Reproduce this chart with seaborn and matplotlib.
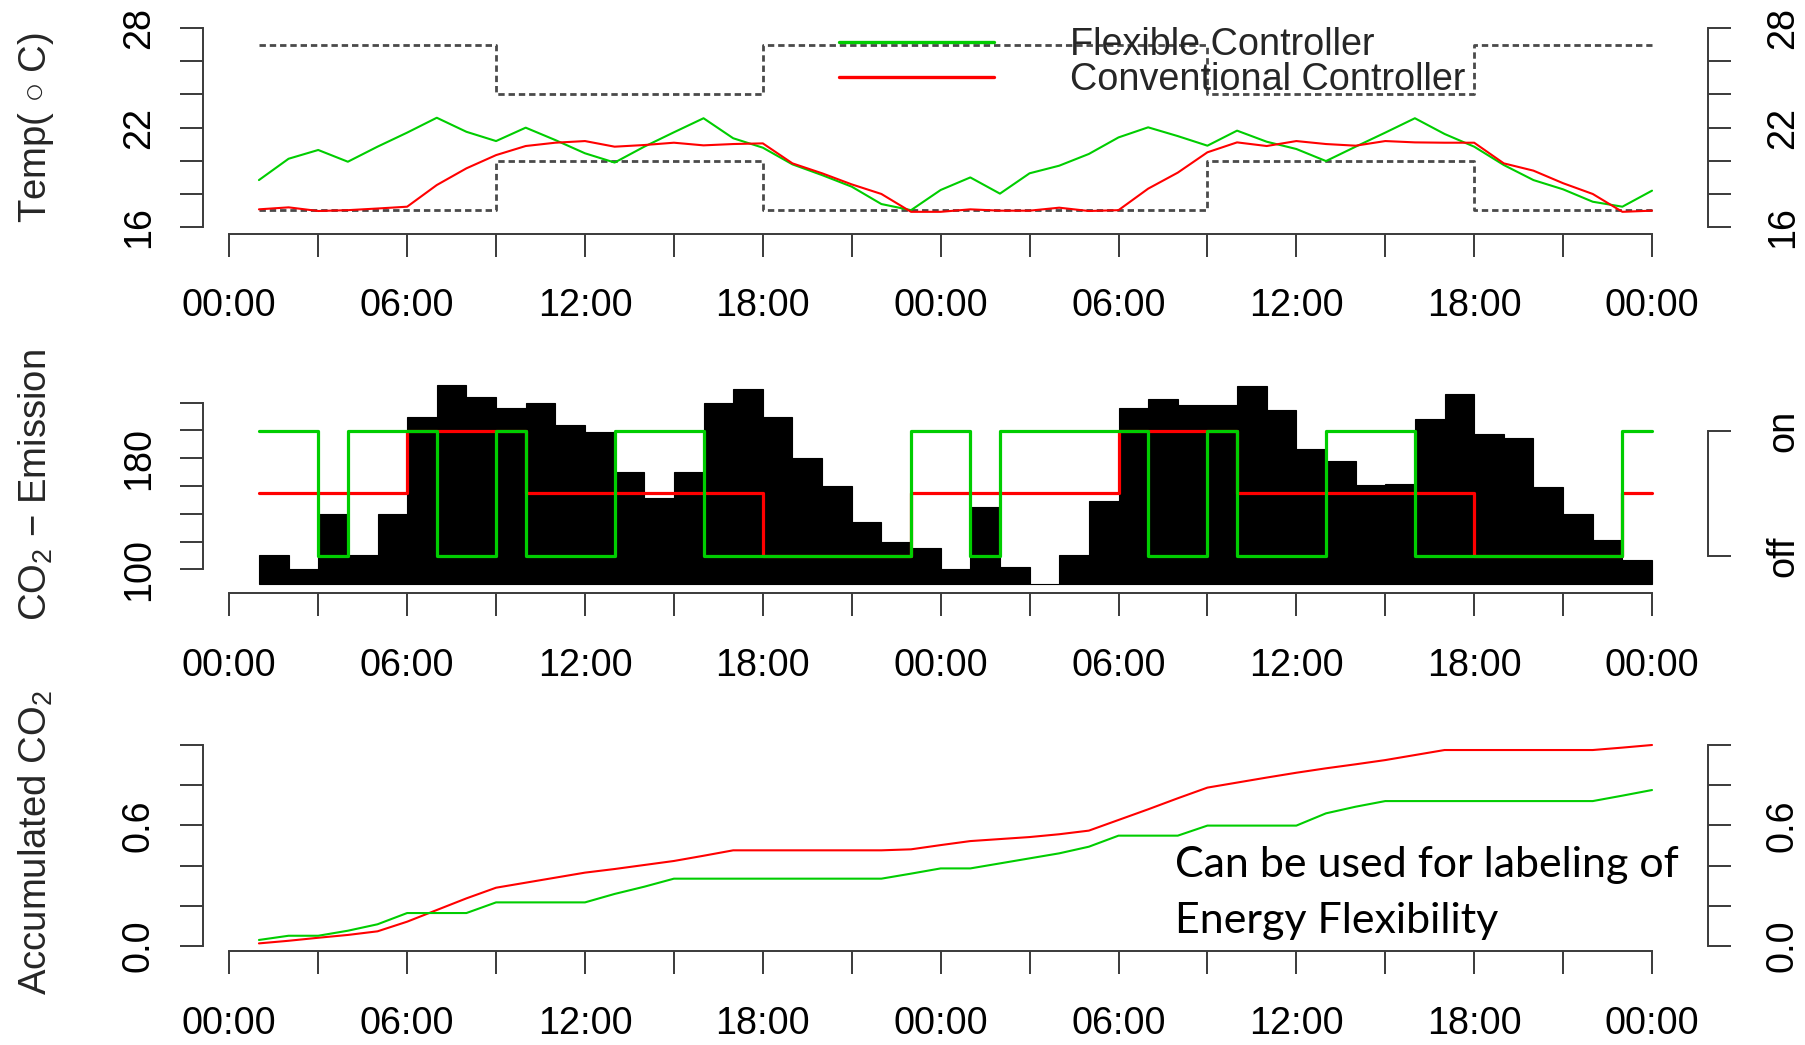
import numpy as np
import pandas as pd
import matplotlib
matplotlib.use("Agg")
import matplotlib.pyplot as plt
import matplotlib.transforms as mtransforms
import seaborn as sns

# ---------------- data ----------------
hours = [1, 2, 3, 4, 5, 6, 7, 8, 9, 10, 11, 12, 13, 14, 15, 16, 17, 18, 19, 20, 21, 22, 23, 24,
         25, 26, 27, 28, 29, 30, 31, 32, 33, 34, 35, 36, 37, 38, 39, 40, 41, 42, 43, 44, 45, 46, 47, 48]

temp_flexible = [18.82, 20.11, 20.64, 19.93, 20.84, 21.69, 22.59, 21.74, 21.18, 21.99, 21.24, 20.44,
                 19.88, 20.84, 21.71, 22.56, 21.35, 20.78, 19.77, 19.12, 18.42, 17.37, 17.00, 18.22,
                 18.98, 18.00, 19.23, 19.69, 20.40, 21.40, 22.01, 21.48, 20.90, 21.81, 21.14, 20.70,
                 19.97, 20.84, 21.69, 22.56, 21.61, 20.84, 19.73, 18.82, 18.26, 17.51, 17.21, 18.18]

temp_conventional = [17.05, 17.17, 16.95, 17.00, 17.10, 17.21, 18.52, 19.53, 20.33, 20.88, 21.08, 21.18,
                     20.84, 20.94, 21.08, 20.92, 21.00, 21.04, 19.83, 19.23, 18.56, 17.98, 16.90, 16.90,
                     17.05, 16.97, 16.97, 17.15, 16.95, 17.00, 18.30, 19.27, 20.50, 21.10, 20.88, 21.18,
                     21.00, 20.90, 21.18, 21.10, 21.08, 21.08, 19.83, 19.39, 18.63, 17.98, 16.90, 16.97]

comfort_upper = [27, 27, 27, 27, 27, 27, 27, 27, 24, 24, 24, 24, 24, 24, 24, 24, 24, 27, 27, 27, 27, 27, 27, 27,
                 27, 27, 27, 27, 27, 27, 27, 27, 24, 24, 24, 24, 24, 24, 24, 24, 24, 27, 27, 27, 27, 27, 27, 27]
comfort_lower = [17, 17, 17, 17, 17, 17, 17, 17, 20, 20, 20, 20, 20, 20, 20, 20, 20, 17, 17, 17, 17, 17, 17, 17,
                 17, 17, 17, 17, 17, 17, 17, 17, 20, 20, 20, 20, 20, 20, 20, 20, 20, 17, 17, 17, 17, 17, 17, 17]

bar_hours = [1, 2, 3, 4, 5, 6, 7, 8, 9, 10, 11, 12, 13, 14, 15, 16, 17, 18, 19, 20, 21, 22, 23, 24,
             25, 26, 27, 28, 29, 30, 31, 32, 33, 34, 35, 36, 37, 38, 39, 40, 41, 42, 43, 44, 45, 46, 47]
co2_emission = [110, 100, 140, 110, 140, 210, 233, 224, 216, 220, 204, 199, 170, 151, 170, 220, 230, 210,
                180, 160, 134, 120, 115, 100, 145, 102, 89.5, 110, 149, 216, 223, 218, 218.5, 232, 215,
                187, 178, 161, 161.5, 208, 226, 197.5, 194.5, 159, 140, 121, 107]

state_flexible = [1, 1, 0, 1, 1, 1, 0, 0, 1, 0, 0, 0, 1, 1, 1, 0, 0, 0, 0, 0, 0, 0, 1, 1,
                  0, 1, 1, 1, 1, 1, 0, 0, 1, 0, 0, 0, 1, 1, 1, 0, 0, 0, 0, 0, 0, 0, 1, 1]
state_conventional = [0.5, 0.5, 0.5, 0.5, 0.5, 1, 1, 1, 1, 0.5, 0.5, 0.5, 0.5, 0.5, 0.5, 0.5, 0.5, 0, 0, 0, 0, 0, 0.5, 0.5,
                      0.5, 0.5, 0.5, 0.5, 0.5, 1, 1, 1, 1, 0.5, 0.5, 0.5, 0.5, 0.5, 0.5, 0.5, 0.5, 0, 0, 0, 0, 0, 0.5, 0.5]

acc_flexible = [0.030, 0.051, 0.051, 0.076, 0.108, 0.164, 0.164, 0.164, 0.217, 0.217, 0.217, 0.217,
                0.259, 0.295, 0.335, 0.335, 0.335, 0.335, 0.335, 0.335, 0.335, 0.335, 0.360, 0.386,
                0.386, 0.411, 0.436, 0.461, 0.494, 0.549, 0.549, 0.549, 0.599, 0.599, 0.599, 0.599,
                0.660, 0.693, 0.721, 0.721, 0.721, 0.721, 0.721, 0.721, 0.721, 0.721, 0.748, 0.776]
acc_conventional = [0.013, 0.026, 0.041, 0.055, 0.073, 0.121, 0.179, 0.237, 0.290, 0.315, 0.340, 0.365,
                    0.383, 0.403, 0.423, 0.449, 0.476, 0.476, 0.476, 0.476, 0.476, 0.476, 0.481, 0.502,
                    0.522, 0.532, 0.542, 0.556, 0.574, 0.627, 0.680, 0.735, 0.788, 0.813, 0.838, 0.862,
                    0.884, 0.904, 0.925, 0.950, 0.975, 0.975, 0.975, 0.975, 0.975, 0.975, 0.987, 1.000]

time_labels = ["00:00", "06:00", "12:00", "18:00", "00:00", "06:00", "12:00", "18:00", "00:00"]

# ---------------- style ----------------
sns.set_theme(style="ticks")
plt.rcParams['font.family'] = ['Liberation Sans', 'DejaVu Sans']
plt.rcParams['mathtext.fontset'] = 'custom'
plt.rcParams['mathtext.rm'] = 'Liberation Sans'
plt.rcParams['mathtext.it'] = 'Liberation Sans:italic'
plt.rcParams['mathtext.bf'] = 'Liberation Sans:bold'

GREEN = '#00CD00'
RED = '#FF0000'
DASH = '#4a4a4a'
AXC = '#3a3a3a'
FS = 27.2
TICKLEN = 16.6
LEFT_PAD = 17.0
RIGHT_EXTRA = 7.2

W, H = 1806, 1045
fig = plt.figure(figsize=(W / 100, H / 100), dpi=100)


def add_axes_px(left, right, top, bottom):
    return fig.add_axes([left / W, 1 - bottom / H, (right - left) / W, (bottom - top) / H])


XL, XR = 203.3, 1708.3
X0, XS = 229.3, 29.64           # pixel of hour 0, pixels per hour
xlim = ((XL - X0) / XS, (XR - X0) / XS)

temp_df = pd.DataFrame({'hour': hours, 'flex': temp_flexible, 'conv': temp_conventional,
                        'upper': comfort_upper, 'lower': comfort_lower})
state_df = pd.DataFrame({'hour': hours, 'flex': state_flexible, 'conv': state_conventional})
acc_df = pd.DataFrame({'hour': hours, 'flex': acc_flexible, 'conv': acc_conventional})

xt = np.arange(0, 49, 3)
xtl = []
k = 0
for v in xt:
    if v % 6 == 0:
        xtl.append(time_labels[k]); k += 1
    else:
        xtl.append('')


def base_style(ax, ybounds, yticks, yticklabels, right=True):
    ax.set_xlim(*xlim)
    ax.spines['top'].set_visible(False)
    ax.spines['bottom'].set_bounds(0, 48)
    ax.spines['left'].set_bounds(*ybounds)
    if right:
        ax.spines['right'].set_visible(True)
        ax.spines['right'].set_bounds(*ybounds)
    else:
        ax.spines['right'].set_visible(False)
    for s in ax.spines.values():
        s.set_color(AXC)
        s.set_linewidth(1.4)
    ax.set_xticks(xt)
    ax.set_xticklabels(xtl)
    ax.set_yticks(yticks)
    ax.set_yticklabels(yticklabels)
    ax.tick_params(axis='both', direction='out', length=TICKLEN, width=1.4, color=AXC,
                   labelsize=FS, labelcolor='black')
    ax.tick_params(axis='x', pad=23.0, bottom=True, top=False)
    ax.tick_params(axis='y', pad=LEFT_PAD, left=True, labelleft=True, right=right,
                   labelright=right, labelrotation=90)
    ax.set_xlabel('')
    ax.set_ylabel('')
    ax.grid(False)


# ---------------- panel 1: temperature ----------------
ax1 = add_axes_px(XL, XR, 20.4, 233.5)
ax1.set_facecolor('none')
dash = (0, (2.3, 1.4))
sns.lineplot(data=temp_df, x='hour', y='upper', ax=ax1, color=DASH, lw=2.0,
             drawstyle='steps-post', linestyle=dash)
sns.lineplot(data=temp_df, x='hour', y='lower', ax=ax1, color=DASH, lw=2.0,
             drawstyle='steps-post', linestyle=dash)
sns.lineplot(data=temp_df, x='hour', y='flex', ax=ax1, color=GREEN, lw=1.5,
             label='Flexible Controller')
sns.lineplot(data=temp_df, x='hour', y='conv', ax=ax1, color=RED, lw=1.5,
             label='Conventional Controller')
ax1.set_ylim(16 - (233.5 - 226.7) / 16.533, 28 + (28.3 - 20.4) / 16.533)
base_style(ax1, (16, 28), np.arange(16, 29, 2), ['16', '', '', '22', '', '', '28'])
leg = ax1.legend(loc='upper left', bbox_to_anchor=(839.3 / W, 1 - 27.0 / H),
                 bbox_transform=fig.transFigure, frameon=False, fontsize=FS,
                 handlelength=4.1, handletextpad=2.0, labelspacing=-0.02,
                 borderpad=0, borderaxespad=0)
for ln in leg.get_lines():
    ln.set_linewidth(2.4)

# ---------------- panel 2: CO2 emission ----------------
ax2 = add_axes_px(XL, XR, 377.8, 592.7)
ax2.set_facecolor('none')
base_val = min(co2_emission)
ax2.bar(bar_hours, [v - base_val for v in co2_emission], bottom=base_val, width=1.0,
        align='edge', color='black', edgecolor='black', linewidth=0.8)
ax2.set_ylim(100 - (592.7 - 569.3) / 1.3883, 220 + (402.7 - 377.8) / 1.3883)
base_style(ax2, (100, 220), np.arange(100, 221, 20), ['100', '', '', '', '180', '', ''], right=False)

ax2b = ax2.twinx()
sns.lineplot(data=state_df, x='hour', y='conv', ax=ax2b, color=RED, lw=2.3,
             drawstyle='steps-post')
sns.lineplot(data=state_df, x='hour', y='flex', ax=ax2b, color=GREEN, lw=2.3,
             drawstyle='steps-post')
ax2b.set_xlim(*xlim)
ax2b.set_ylim(-(592.7 - 556.0) / 125.5, 1 + (430.5 - 377.8) / 125.5)
for s in ['left', 'top', 'bottom']:
    ax2b.spines[s].set_visible(False)
ax2b.spines['right'].set_bounds(0, 1)
ax2b.spines['right'].set_color(AXC)
ax2b.spines['right'].set_linewidth(1.4)
ax2b.set_yticks([0, 1])
ax2b.set_yticklabels(['off', 'on'])
ax2b.tick_params(axis='y', direction='out', length=TICKLEN, width=1.4, color=AXC,
                 labelsize=FS, labelcolor='black', pad=LEFT_PAD, labelrotation=90,
                 left=False, labelleft=False, right=True, labelright=True)
ax2b.set_ylabel('')
ax2b.set_xlabel('')
ax2b.grid(False)

# ---------------- panel 3: accumulated CO2 ----------------
ax3 = add_axes_px(XL, XR, 737.0, 951.0)
ax3.set_facecolor('none')
sns.lineplot(data=acc_df, x='hour', y='conv', ax=ax3, color=RED, lw=1.5)
sns.lineplot(data=acc_df, x='hour', y='flex', ax=ax3, color=GREEN, lw=1.5)
ax3.set_ylim(-(951.0 - 946.0) / 201.0, 1 + (745.0 - 737.0) / 201.0)
base_style(ax3, (0, 1), np.arange(0, 1.01, 0.2), ['0.0', '', '', '0.6', '', ''])
if ax3.get_legend() is not None:
    ax3.get_legend().remove()

# axis titles
fig.text(36 / W, 1 - 127.5 / H, 'Temp( $\\circ$ C)', rotation=90, ha='center', va='center', fontsize=FS + 0.3)
fig.text(36 / W, 1 - 485 / H, 'CO$_2$ \u2212 Emission', rotation=90, ha='center', va='center', fontsize=FS + 0.3)
fig.text(36 / W, 1 - 843 / H, 'Accumulated CO$_2$', rotation=90, ha='center', va='center', fontsize=FS + 0.3)

# annotation
fig.text(1175.5 / W, 1 - 876.7 / H, 'Can be used for labeling of', family=['Lato', 'DejaVu Sans'],
         fontsize=31, ha='left', va='baseline', color='black')
fig.text(1175.5 / W, 1 - 933.0 / H, 'Energy Flexibility', family=['Lato', 'DejaVu Sans'],
         fontsize=31, ha='left', va='baseline', color='black')

# final label alignment tweaks
off = mtransforms.ScaledTranslation(RIGHT_EXTRA / 72, 0, fig.dpi_scale_trans)
for a in (ax1, ax2, ax2b, ax3):
    for t in a.yaxis.get_major_ticks():
        t.label1.set_va('center')
        t.label2.set_va('center')
        t.label2.set_transform(t.label2.get_transform() + off)

fig.savefig('out.png', dpi=100, facecolor='white')
